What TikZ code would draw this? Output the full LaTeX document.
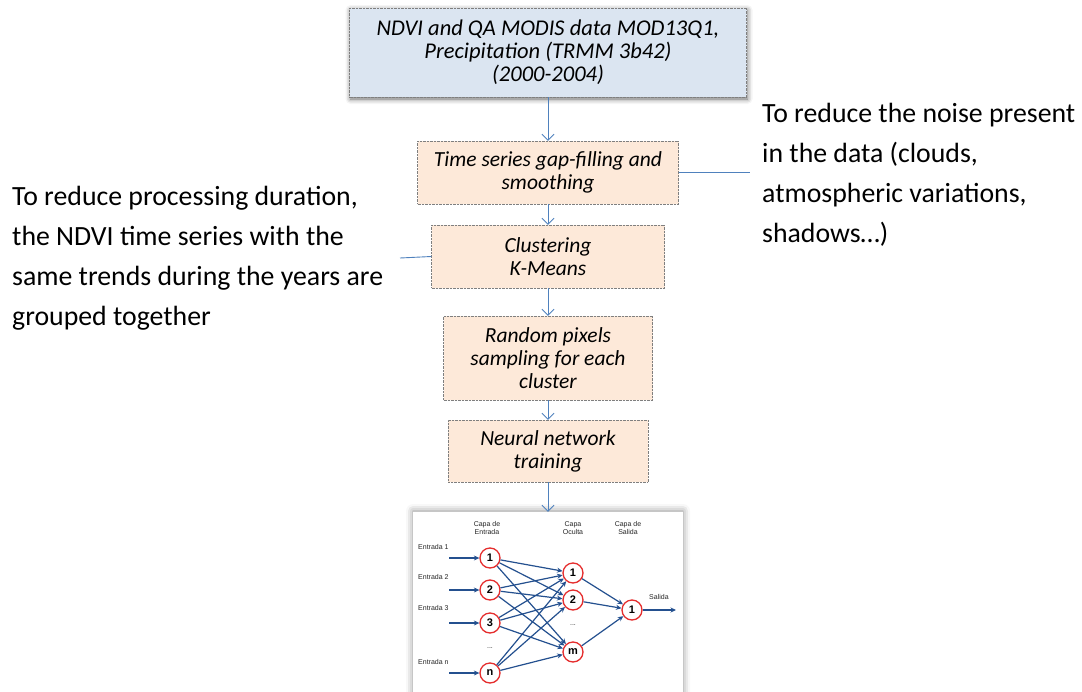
\documentclass[tikz,border=0pt]{standalone}
\usepackage{fontspec}
\setmainfont{Carlito}
\setsansfont{Liberation Sans}
\usetikzlibrary{arrows.meta, positioning, shadows.blur}
\definecolor{dataBlue}{HTML}{DBE5F1}
\definecolor{stepPeach}{HTML}{FDE9D9}
\definecolor{linkBlue}{HTML}{4F81BD}
\definecolor{netBlue}{HTML}{24508F}
\definecolor{neuronRed}{HTML}{E52D2D}
\definecolor{borderGray}{HTML}{7F7F7F}
\tikzset{
  arrowL/.style={-{Straight Barb[length=6pt, width=12pt]}, linkBlue, line width=0.9pt},
  lineL/.style={linkBlue, line width=0.9pt},
  boxData/.style={rectangle, draw=borderGray, densely dotted, fill=dataBlue,
                  align=center, font=\itshape\fontsize{22.5}{23}\selectfont,
                  blur shadow={shadow xshift=1pt, shadow yshift=-2pt, shadow blur radius=5pt, shadow opacity=60}},
  boxStep/.style={rectangle, draw=borderGray, densely dotted, fill=stepPeach,
                  align=center, font=\itshape\fontsize{21.5}{23}\selectfont},
  note/.style={align=left, font=\fontsize{27.8}{40}\selectfont, inner sep=0pt},
  panel/.style={rectangle, fill=white,
                blur shadow={shadow xshift=0pt, shadow yshift=1pt, shadow blur radius=7pt, shadow opacity=45}},
  neuron/.style={circle, draw=neuronRed, line width=1.3pt, fill=white, minimum size=20pt,
                 inner sep=0pt, font=\sffamily\bfseries\fontsize{11}{11}\selectfont},
  arrowN/.style={-{Stealth[length=5.5pt, width=5pt]}, netBlue, line width=1.2pt},
  netLabel/.style={font=\sffamily\fontsize{7}{7.5}\selectfont, align=center, text=black!85, inner sep=1pt},
}
\begin{document}
\begin{tikzpicture}[x=1pt, y=-1pt]
  \useasboundingbox (0,0) rectangle (1082,691);
  % flow boxes
  \node[boxData, minimum width=397pt, minimum height=89pt] (data) at (548,52.5) {NDVI and QA MODIS data MOD13Q1,\\Precipitation (TRMM 3b42)\\(2000-2004)};
  \node[boxStep, minimum width=261pt, minimum height=63pt] (gapfill) at (548,172.5) {Time series gap-filling and\\smoothing};
  \node[boxStep, minimum width=233pt, minimum height=63pt] (kmeans) at (548,256.5) {Clustering\\K-Means};
  \node[boxStep, minimum width=209pt, minimum height=84pt] (sampling) at (548,358) {Random pixels\\sampling for each\\cluster};
  \node[boxStep, minimum width=200pt, minimum height=62pt] (training) at (548,451) {Neural network\\training};
  \node[panel, minimum width=270pt, minimum height=182pt] (netpanel) at (548,603) {};
  \draw[arrowL] (data)--(gapfill); \draw[arrowL] (gapfill)--(kmeans); \draw[arrowL] (kmeans)--(sampling);
  \draw[arrowL] (sampling)--(training); \draw[arrowL] (training)--(netpanel);
  % side notes
  \node[note, anchor=north west] (noteNoise) at (762,103) {To reduce the noise present\\in the data (clouds,\\atmospheric variations,\\shadows…)};
  \node[note, anchor=north west] (noteTime) at (12,186) {To reduce processing duration,\\the NDVI time series with the\\same trends during the years are\\grouped together};
  \coordinate (noiseEnd) at (750,172.5);
  \coordinate (timeEnd) at (400,258);
  \draw[lineL] (gapfill.east)--(noiseEnd); \draw[lineL] (timeEnd)--(kmeans.west);
  % network
  \node[netLabel] (hdrIn) at (487,528) {Capa de\\Entrada};
  \node[netLabel] (hdrHid) at (573,528) {Capa\\Oculta};
  \node[netLabel] (hdrOut) at (628,528) {Capa de\\Salida};
  \node[neuron] (in1) at (490,558) {1};
  \node[neuron] (in2) at (490,590) {2};
  \node[neuron] (in3) at (490,623) {3};
  \node[netLabel] (inDots) at (490,648) {...};
  \node[neuron] (inN) at (490,673) {n};
  \node[neuron] (hid1) at (573,573) {1};
  \node[neuron] (hid2) at (573,600) {2};
  \node[netLabel] (hidDots) at (573,625) {...};
  \node[neuron] (hidM) at (573,652) {m};
  \node[neuron] (out1) at (632,610) {1};
  \node[netLabel, anchor=south west] (ent1) at (417,551) {Entrada 1};
  \node[netLabel, anchor=south west] (ent2) at (417,581) {Entrada 2};
  \node[netLabel, anchor=south west] (ent3) at (417,612) {Entrada 3};
  \node[netLabel, anchor=south west] (entN) at (417,666) {Entrada n};
  \node[netLabel, anchor=south west] (salida) at (648,601) {Salida};
  \coordinate (x1) at (449,558); \coordinate (x2) at (449,590);
  \coordinate (x3) at (449,623); \coordinate (xN) at (449,673);
  \coordinate (y1) at (676,610);
  \draw[arrowN] (x1)--(in1); \draw[arrowN] (x2)--(in2); \draw[arrowN] (x3)--(in3); \draw[arrowN] (xN)--(inN);
  \draw[arrowN] (in1)--(hid1); \draw[arrowN] (in1)--(hid2); \draw[arrowN] (in1)--(hidM);
  \draw[arrowN] (in2)--(hid1); \draw[arrowN] (in2)--(hid2); \draw[arrowN] (in2)--(hidM);
  \draw[arrowN] (in3)--(hid1); \draw[arrowN] (in3)--(hid2); \draw[arrowN] (in3)--(hidM);
  \draw[arrowN] (inN)--(hid1); \draw[arrowN] (inN)--(hid2); \draw[arrowN] (inN)--(hidM);
  \draw[arrowN] (hid1)--(out1); \draw[arrowN] (hid2)--(out1); \draw[arrowN] (hidM)--(out1);
  \draw[arrowN] (out1)--(y1);
\end{tikzpicture}
\end{document}
